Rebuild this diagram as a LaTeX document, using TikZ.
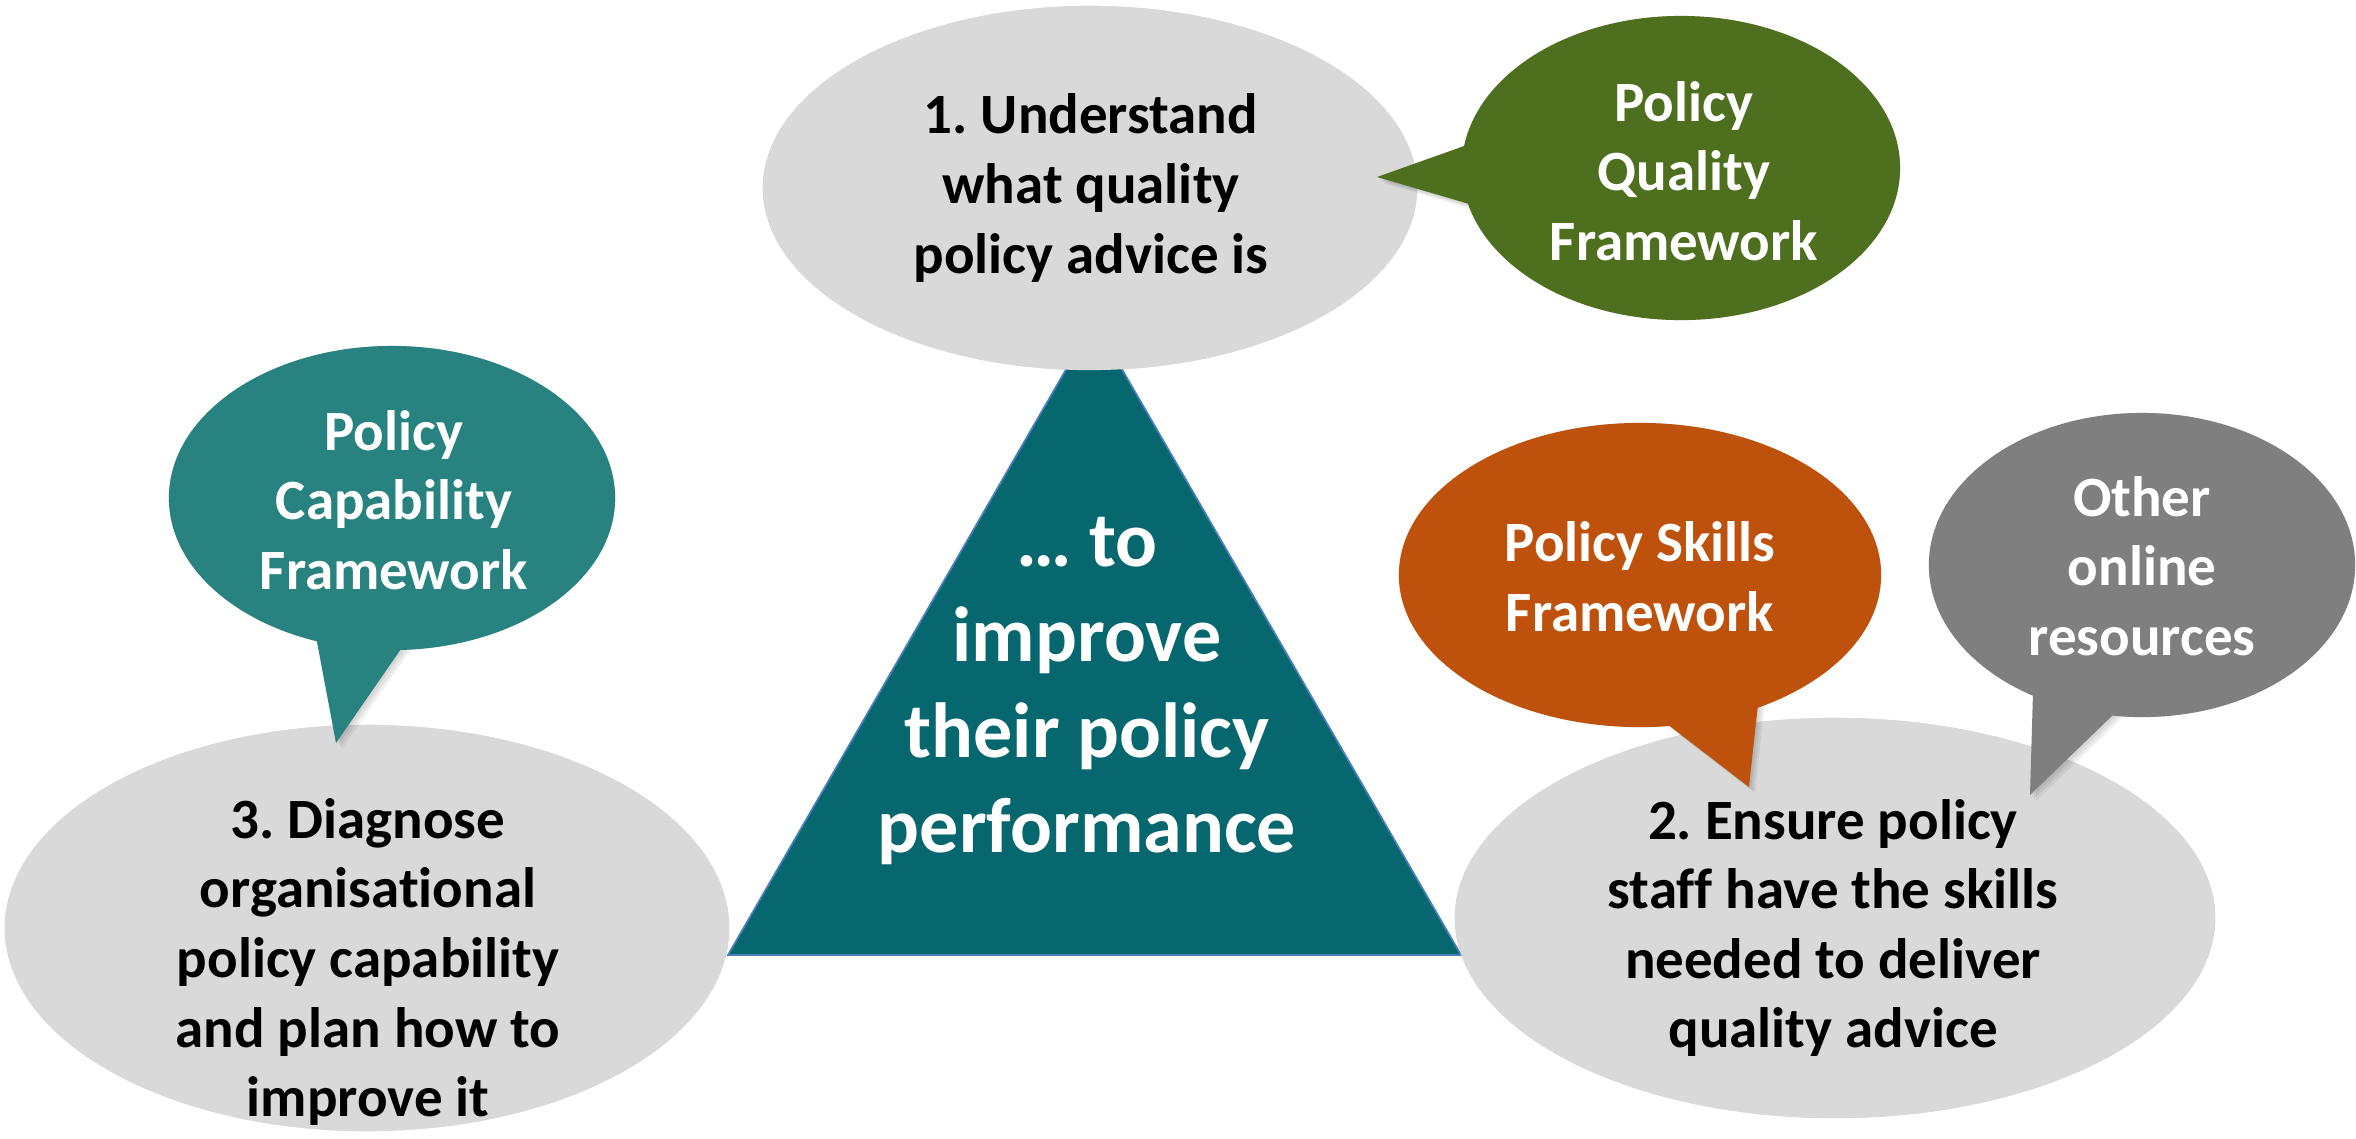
\documentclass[tikz,border=0pt]{standalone}
\usepackage{fontspec}
\setmainfont{Carlito}[Ligatures=NoCommon]
\frenchspacing
\begin{document}
\begin{tikzpicture}[x=0.01cm, y=-0.01cm,
  lbl/.style={font=\fontsize{16.2}{19.8}\selectfont\bfseries, align=center, inner sep=0pt},
  wlbl/.style={lbl, text=white},
  big/.style={font=\fontsize{22.2}{27.2}\selectfont\bfseries, align=center, inner sep=0pt, text=white},
]
\definecolor{pale}{HTML}{D9D9D9}
\definecolor{olive}{HTML}{4E701E}
\definecolor{seateal}{HTML}{278280}
\definecolor{deepteal}{HTML}{06686E}
\definecolor{rust}{HTML}{BE520C}
\definecolor{stone}{HTML}{7F7F7F}
\definecolor{edgeblue}{HTML}{4A7EBB}

% soft drop shadow built from a few faint, offset copies of a shape
\newcommand{\softshadow}[1]{%
  \foreach \s in {2,4,6} {%
    \begin{scope}[transparency group, opacity=0.06, shift={(\s,\s)}]
      \fill[black] #1;
    \end{scope}}}

\useasboundingbox (0,0) rectangle (2356,1138);

% key points
\coordinate (apex) at (1094,321);
\coordinate (bl) at (728,955);
\coordinate (br) at (1461,955);
\coordinate (c1) at (1090,188);
\coordinate (c3) at (367,928);
\coordinate (c2) at (1835,918);
\coordinate (cq) at (1681,168);
\coordinate (cc) at (392,498);
\coordinate (cs) at (1640,575);
\coordinate (co) at (2142,565);

% central triangle
\softshadow{(apex) -- (bl) -- (br) -- cycle}
\fill[deepteal] (apex) -- (bl) -- (br) -- cycle;
\draw[edgeblue, line width=0.5pt, line join=miter] (apex) -- (bl) -- (br) -- cycle;

% the three step ellipses
\softshadow{(c1) ellipse [x radius=3.27cm, y radius=1.82cm]}
\fill[pale] (c1) ellipse [x radius=3.27cm, y radius=1.82cm];
\softshadow{(c3) ellipse [x radius=3.62cm, y radius=2.03cm]}
\fill[pale] (c3) ellipse [x radius=3.62cm, y radius=2.03cm];
\softshadow{(c2) ellipse [x radius=3.80cm, y radius=2.00cm]}
\fill[pale] (c2) ellipse [x radius=3.80cm, y radius=2.00cm];

% speech bubbles
\softshadow{(cq) ellipse [x radius=2.19cm, y radius=1.52cm] (1377,177) -- (1495,135) -- (1500,213) -- cycle}
\fill[olive] (cq) ellipse [x radius=2.19cm, y radius=1.52cm];
\fill[olive] (1377,177) -- (1495,135) -- (1500,213) -- cycle;

\softshadow{(cc) ellipse [x radius=2.23cm, y radius=1.52cm] (336,743) -- (311,610) -- (421,620) -- cycle}
\fill[seateal] (cc) ellipse [x radius=2.23cm, y radius=1.52cm];
\fill[seateal] (336,743) -- (311,610) -- (421,620) -- cycle;

\softshadow{(cs) ellipse [x radius=2.41cm, y radius=1.52cm] (1749,787) -- (1632,697) -- (1762,668) -- cycle}
\fill[rust] (cs) ellipse [x radius=2.41cm, y radius=1.52cm];
\fill[rust] (1749,787) -- (1632,697) -- (1762,668) -- cycle;

\softshadow{(co) ellipse [x radius=2.13cm, y radius=1.52cm] (2030,795) -- (2034,658) -- (2143,686) -- cycle}
\fill[stone] (co) ellipse [x radius=2.13cm, y radius=1.52cm];
\fill[stone] (2030,795) -- (2034,658) -- (2143,686) -- cycle;

% texts
\node[big] (centre) at (1087,691) {\dots{} to\\improve\\their policy\\performance};
\node[lbl] (step1) at (1091,188) {1. Understand\\what quality\\policy advice is};
\node[lbl] (step2) at (1833,928) {2. Ensure policy\\staff have the skills\\needed to deliver\\quality advice};
\node[lbl] (step3) at (368,962) {3. Diagnose\\organisational\\policy capability\\and plan how to\\improve it};
\node[wlbl] (pqf) at (1684,171) {Policy\\Quality\\Framework};
\node[wlbl] (pcf) at (394,500) {Policy\\Capability\\Framework};
\node[wlbl] (psf) at (1640,577) {Policy Skills\\Framework};
\node[wlbl] (oor) at (2142,566) {Other\\online\\resources};
\end{tikzpicture}
\end{document}
